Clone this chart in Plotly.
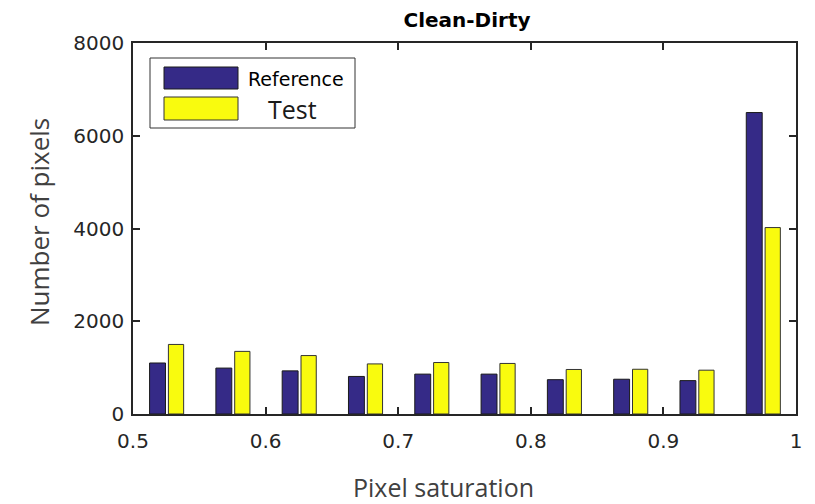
import plotly.graph_objects as go

# Histogram of pixel saturation, 10 bins between 0.5 and 1
bin_centers = [0.525, 0.575, 0.625, 0.675, 0.725, 0.775, 0.825, 0.875, 0.925, 0.975]
reference_counts = [1100, 990, 930, 810, 860, 860, 740, 750, 720, 6500]
test_counts = [1500, 1350, 1260, 1080, 1110, 1090, 960, 965, 945, 4020]
x_ticks = [0.5, 0.6, 0.7, 0.8, 0.9, 1.0]
x_tick_labels = ["0.5", "0.6", "0.7", "0.8", "0.9", "1"]
y_ticks = [0, 2000, 4000, 6000, 8000]

REF_COLOR = "#352A87"
TEST_COLOR = "#F9FB0E"
AXIS_COLOR = "#262626"
LABEL_COLOR = "#404040"

fig = go.Figure()
fig.add_trace(go.Bar(
    x=bin_centers, y=reference_counts, name="Reference",
    width=0.0120, offset=-0.0125,
    marker=dict(color=REF_COLOR, line=dict(color="#1a1a1a", width=1)),
    showlegend=False,
))
fig.add_trace(go.Bar(
    x=bin_centers, y=test_counts, name="Test",
    width=0.0115, offset=0.0017,
    marker=dict(color=TEST_COLOR, line=dict(color="#333333", width=1)),
    showlegend=False,
))

axis_common = dict(
    showline=True, linecolor=AXIS_COLOR, linewidth=1.5, mirror="ticks",
    ticks="inside", ticklen=7, tickwidth=1.5, tickcolor=AXIS_COLOR,
    showgrid=False, zeroline=False,
    tickfont=dict(family="DejaVu Sans", size=20, color=AXIS_COLOR),
)

fig.update_layout(
    width=815, height=504,
    margin=dict(l=133, r=19, t=43, b=90),
    plot_bgcolor="white", paper_bgcolor="white",
    barmode="overlay",
    title=dict(text="<b>Clean-Dirty</b>", x=467 / 815, xanchor="center",
               y=1 - 20 / 504, yanchor="middle",
               font=dict(family="DejaVu Sans", size=20, color="#000000")),
    xaxis=dict(range=[0.5, 1.0], tickvals=x_ticks, ticktext=x_tick_labels,
               ticklabelstandoff=8, **axis_common),
    yaxis=dict(range=[0, 8000], tickvals=y_ticks,
               ticklabelstandoff=3, **axis_common),
)

# Axis titles placed as annotations (plot-area pixel helpers)
def px_x(p):
    return (p - 133) / 663.0

def px_y(p):
    return (414 - p) / 371.0

fig.add_annotation(xref="paper", yref="paper", x=px_x(443.5), y=px_y(487),
                   text="Pixel saturation", showarrow=False,
                   xanchor="center", yanchor="middle",
                   font=dict(family="Open Sans", size=25, color=LABEL_COLOR))
fig.add_annotation(xref="paper", yref="paper", x=px_x(39), y=px_y(222),
                   text="Number of pixels", showarrow=False, textangle=-90,
                   xanchor="center", yanchor="middle",
                   font=dict(family="Open Sans", size=26, color=LABEL_COLOR))

# Legend box
fig.add_shape(type="rect", xref="paper", yref="paper",
              x0=px_x(150), x1=px_x(355), y0=px_y(128), y1=px_y(58),
              line=dict(color="#333333", width=1), fillcolor="white")
fig.add_shape(type="rect", xref="paper", yref="paper",
              x0=px_x(164), x1=px_x(238), y0=px_y(89), y1=px_y(67),
              line=dict(color="#1a1a1a", width=1), fillcolor=REF_COLOR)
fig.add_shape(type="rect", xref="paper", yref="paper",
              x0=px_x(164), x1=px_x(238), y0=px_y(120), y1=px_y(97),
              line=dict(color="#333333", width=1), fillcolor=TEST_COLOR)
fig.add_annotation(xref="paper", yref="paper", x=px_x(246), y=px_y(79),
                   text="Reference", showarrow=False, xanchor="left", yanchor="middle",
                   font=dict(family="DejaVu Sans", size=19, color="#000000"))
fig.add_annotation(xref="paper", yref="paper", x=px_x(292), y=px_y(109),
                   text="Test", showarrow=False, xanchor="center", yanchor="middle",
                   font=dict(family="Open Sans", size=25, color="#1a1a1a"))

fig.write_html("out.html")
